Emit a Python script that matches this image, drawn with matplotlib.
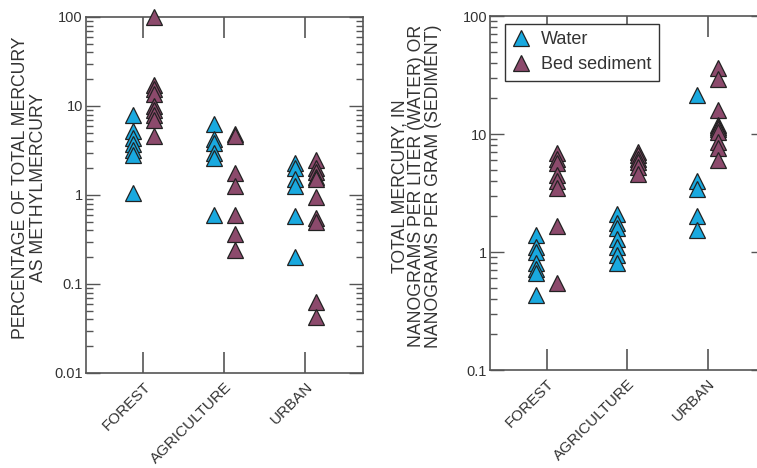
"""
Methylmercury share and total mercury by land use, water vs bed sediment
"""
import numpy as np
import matplotlib
matplotlib.use('Agg')
import matplotlib.pyplot as plt
from matplotlib.ticker import LogLocator, FixedLocator, FuncFormatter

categories = ['FOREST', 'AGRICULTURE', 'URBAN']

# Percentage of total mercury as methylmercury (forest, agriculture, urban)
meth_water = [
    [7.9, 5.2, 4.4, 3.7, 3.2, 2.8, 1.05],
    [6.3, 4.3, 3.8, 3.0, 2.6, 0.59],
    [2.3, 2.0, 1.5, 1.25, 0.58, 0.2],
]
meth_sediment = [
    [100, 17, 15.5, 13.5, 10, 9, 8, 7, 4.6],
    [4.9, 4.6, 1.75, 1.25, 0.6, 0.36, 0.24],
    [2.5, 2.0, 1.8, 1.6, 1.5, 0.95, 0.55, 0.5, 0.062, 0.043],
]

# Total mercury, ng/L (water) or ng/g (sediment)
total_water = [
    [1.4, 1.1, 1.0, 0.8, 0.72, 0.66, 0.43],
    [2.1, 1.75, 1.6, 1.3, 1.1, 0.95, 0.8],
    [21.5, 4.0, 3.4, 2.0, 1.55],
]
total_sediment = [
    [6.9, 6.1, 5.7, 4.5, 4.0, 3.5, 1.65, 0.55],
    [7.0, 6.6, 6.2, 5.8, 5.3, 4.6],
    [36, 29, 16, 12, 11.5, 11, 10.5, 8.5, 7.6, 6.0],
]

WATER_COLOR = '#19a9df'
SED_COLOR = '#8c4a6c'
TEXT_COLOR = '#333333'
SPINE_COLOR = '#555555'


def style_axis(ax, ylim, ticks):
    ax.set_yscale('log')
    ax.set_ylim(*ylim)
    ax.set_xlim(0.29, 3.71)
    ax.set_xticks([1, 2, 3])
    ax.set_xticklabels(categories, rotation=45, ha='right', va='top',
                       rotation_mode='anchor', fontsize=11, color=TEXT_COLOR)
    ax.yaxis.set_major_locator(FixedLocator(ticks))
    ax.yaxis.set_minor_locator(LogLocator(base=10, subs=np.arange(2, 10)))
    ax.yaxis.set_major_formatter(FuncFormatter(lambda v, p: '%g' % v))
    ax.tick_params(axis='x', which='major', direction='in', length=15,
                   width=1.2, top=True, bottom=True, pad=5,
                   color=SPINE_COLOR)
    ax.tick_params(axis='x', which='minor', bottom=False, top=False)
    ax.tick_params(axis='y', which='major', direction='in', length=10,
                   width=1, left=True, right=True, pad=2,
                   labelsize=10.5, labelcolor=TEXT_COLOR, color=SPINE_COLOR)
    ax.tick_params(axis='y', which='minor', direction='in', length=5,
                   width=1, left=True, right=True, color=SPINE_COLOR)
    for s in ax.spines.values():
        s.set_color(SPINE_COLOR)
        s.set_linewidth(1.2)


def draw_points(ax, water, sediment):
    for i in range(len(categories)):
        xw = np.full(len(water[i]), i + 1 - 0.13)
        xs = np.full(len(sediment[i]), i + 1 + 0.13)
        ax.plot(xw, water[i], '^', ms=11, mfc=WATER_COLOR, mec='#222222',
                mew=0.9, ls='none', label='Water' if i == 0 else None,
                clip_on=False, zorder=3)
        ax.plot(xs, sediment[i], '^', ms=11, mfc=SED_COLOR, mec='#222222',
                mew=0.9, ls='none', label='Bed sediment' if i == 0 else None,
                clip_on=False, zorder=3)


def main():
    plt.rcParams['font.family'] = ['Liberation Sans', 'DejaVu Sans']
    fig = plt.figure(figsize=(7.57, 4.68), dpi=100)

    # Left panel: methylmercury share
    ax1 = fig.add_axes([0.113, 0.203, 0.3665, 0.7607])
    draw_points(ax1, meth_water, meth_sediment)
    style_axis(ax1, (0.01, 100), [0.01, 0.1, 1, 10, 100])
    ax1.set_ylabel('PERCENTAGE OF TOTAL MERCURY\nAS METHYLMERCURY',
                   fontsize=12.7, color=TEXT_COLOR, linespacing=1.05)
    ax1.yaxis.set_label_coords(-0.139, 0.52)

    # Right panel: total mercury
    ax2 = fig.add_axes([0.647, 0.2094, 0.3636, 0.7564])
    draw_points(ax2, total_water, total_sediment)
    style_axis(ax2, (0.1, 100), [0.1, 1, 10, 100])
    ax2.set_ylabel('TOTAL MERCURY, IN\nNANOGRAMS PER LITER (WATER) OR\n'
                   'NANOGRAMS PER GRAM (SEDIMENT)',
                   fontsize=12.7, color=TEXT_COLOR, linespacing=0.98)
    ax2.yaxis.set_label_coords(-0.175, 0.52)

    leg = ax2.legend(loc='upper left', bbox_to_anchor=(0.055, 0.977),
                     borderaxespad=0, fontsize=13, fancybox=False,
                     edgecolor='#333333', handlelength=1.0,
                     handletextpad=0.6, labelspacing=0.45, borderpad=0.4,
                     framealpha=1)
    leg.get_frame().set_linewidth(1.0)
    for t in leg.get_texts():
        t.set_color(TEXT_COLOR)

    fig.savefig('out.png', dpi=100)


if __name__ == "__main__":
    main()
